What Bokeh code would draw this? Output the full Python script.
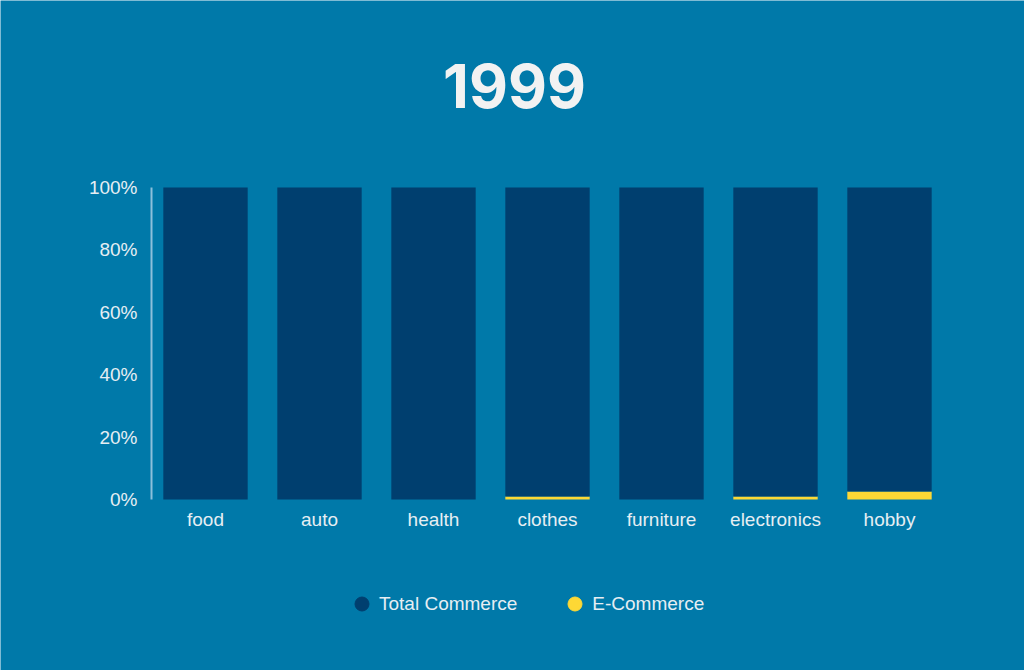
from bokeh.plotting import figure
from bokeh.models import Range1d, Label, Legend, LegendItem, PrintfTickFormatter, FixedTicker, ColumnDataSource
from bokeh.embed import file_html
from bokeh.resources import INLINE

title_text = "1999"
categories = ["food", "auto", "health", "clothes", "furniture", "electronics", "hobby"]
ecommerce = [0.0, 0.0, 0.0, 1.0, 0.0, 1.0, 2.6]
total = [100.0 - e for e in ecommerce]
series_names = ["Total Commerce", "E-Commerce"]
y_ticks = [0, 20, 40, 60, 80, 100]

BG = "#0079a9"
DARK = "#003f6f"
YELLOW = "#fdd835"
TXT = "#e6eef3"
FONT = "Liberation Sans"
FS = "19px"

W, H = 1024, 670
PX_PER_UNIT = 3.12          # 100 % spans 312 px
TOP_PX = 187                # pixel of 100 %
PX_PER_CAT = 114.0          # distance between category centres
FIRST_CAT_PX = 205          # pixel of first category centre
y_top = 100 + TOP_PX / PX_PER_UNIT
y_bot = -(H - TOP_PX - 100 * PX_PER_UNIT) / PX_PER_UNIT
x_left = -FIRST_CAT_PX / PX_PER_CAT
x_right = x_left + W / PX_PER_CAT

xs = list(range(len(categories)))

p = figure(width=W, height=H, x_range=Range1d(x_left, x_right),
           y_range=Range1d(y_bot, y_top), output_backend="svg", toolbar_location=None,
           min_border_left=0, min_border_right=0, min_border_top=0, min_border_bottom=0)
p.title.visible = False
p.background_fill_color = BG
p.border_fill_color = BG
p.outline_line_color = None
p.grid.grid_line_color = None

src = ColumnDataSource(dict(x=xs, ecom=ecommerce, total=total))
p.vbar_stack(["ecom", "total"], x="x", width=0.74, source=src,
             color=[YELLOW, DARK], line_color=None)

# axes
p.yaxis.fixed_location = -0.5 + 3 / PX_PER_CAT
p.yaxis.ticker = FixedTicker(ticks=y_ticks)
p.yaxis.bounds = (0, 100)
p.yaxis.formatter = PrintfTickFormatter(format="%d%%")
p.yaxis.axis_line_color = "#8cc0db"
p.yaxis.axis_line_width = 2
p.yaxis.major_tick_line_color = None
p.yaxis.minor_tick_line_color = None
p.yaxis.major_label_text_color = TXT
p.yaxis.major_label_text_font = FONT
p.yaxis.major_label_text_font_size = FS
p.yaxis.major_label_standoff = 8

p.xaxis.fixed_location = 0
p.xaxis.ticker = FixedTicker(ticks=xs)
p.xaxis.major_label_overrides = {i: c for i, c in zip(xs, categories)}
p.xaxis.axis_line_color = None
p.xaxis.major_tick_line_color = None
p.xaxis.minor_tick_line_color = None
p.xaxis.major_label_text_color = TXT
p.xaxis.major_label_text_font = FONT
p.xaxis.major_label_text_font_size = FS
p.xaxis.major_label_standoff = 3

# title
p.add_layout(Label(x=x_left + 514 / PX_PER_CAT, y=y_top - 85 / PX_PER_UNIT, text=title_text,
                   text_font="Inter", text_font_style="bold", text_font_size="60px",
                   text_color="#f2f2f2", text_align="center", text_baseline="middle"))

# legend with circle markers
nan = float("nan")
r1 = p.scatter(x=xs[:1], y=[nan], marker="circle", size=14, color=DARK)
r2 = p.scatter(x=xs[:1], y=[nan], marker="circle", size=14, color=YELLOW)
legend = Legend(items=[LegendItem(label=series_names[0], renderers=[r1]),
                       LegendItem(label=series_names[1], renderers=[r2])],
                location=(344, H - 621), orientation="horizontal",
                background_fill_alpha=0, border_line_color=None,
                label_text_color=TXT, label_text_font=FONT, label_text_font_size=FS,
                glyph_width=35, glyph_height=35, label_standoff=0, spacing=40,
                padding=0, margin=0)
p.add_layout(legend, "center")

open("out.html", "w").write(file_html(p, INLINE))
